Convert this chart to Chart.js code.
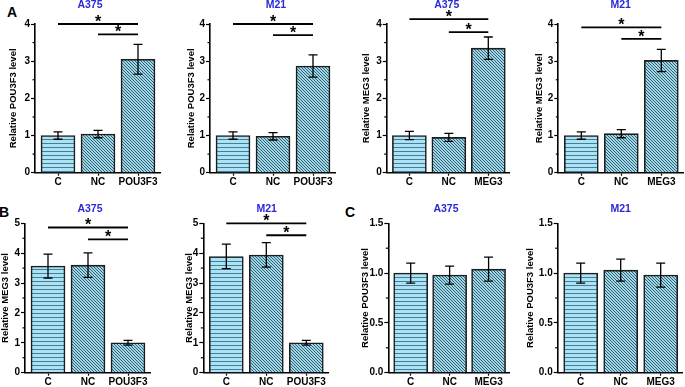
<!DOCTYPE html>
<html><head><meta charset="utf-8">
<script src="https://cdn.jsdelivr.net/npm/chart.js@4.4.0/dist/chart.umd.min.js"></script>
<style>
html,body{margin:0;padding:0;background:#fff;width:685px;height:387px;overflow:hidden;}
#wrap{position:relative;width:685px;height:387px;}
canvas{position:absolute;}
.lbl{position:absolute;font:bold 14px "Liberation Sans",Arial,sans-serif;line-height:14px;color:#000;}
</style></head><body><div id="wrap">
<div class="lbl" style="left:7px;top:5px">A</div>
<div class="lbl" style="left:-1px;top:205px">B</div>
<div class="lbl" style="left:345px;top:205px">C</div>
</div>
<script>
const FONT = '"Liberation Sans", Arial, sans-serif';

// categories
const catsPOU = ['C', 'NC', 'POU3F3'];
const catsMEG = ['C', 'NC', 'MEG3'];

// Panel A: mean and SD
const aA375PouMean = [1.00, 1.04, 3.05];
const aA375PouSD   = [0.10, 0.10, 0.40];
const aM21PouMean  = [1.00, 0.98, 2.87];
const aM21PouSD    = [0.10, 0.10, 0.30];
const aA375MegMean = [1.00, 0.95, 3.35];
const aA375MegSD   = [0.11, 0.11, 0.30];
const aM21MegMean  = [1.00, 1.05, 3.02];
const aM21MegSD    = [0.10, 0.11, 0.30];

// Panel B
const bA375MegMean = [3.57, 3.60, 1.00];
const bA375MegSD   = [0.40, 0.41, 0.08];
const bM21MegMean  = [3.89, 3.94, 1.00];
const bM21MegSD    = [0.41, 0.41, 0.08];

// Panel C
const cA375PouMean = [1.00, 0.98, 1.04];
const cA375PouSD   = [0.10, 0.09, 0.12];
const cM21PouMean  = [1.00, 1.03, 0.98];
const cM21PouSD    = [0.10, 0.11, 0.12];

// significance brackets: [from category, to category, height]
const sigA1 = [[0, 2, 4.00], [1, 2, 3.72]];
const sigA2 = [[0, 2, 4.00], [1, 2, 3.70]];
const sigA3 = [[0, 2, 4.13], [1, 2, 3.78]];
const sigA4 = [[0, 2, 3.91], [1, 2, 3.60]];
const sigB1 = [[0, 2, 4.86], [1, 2, 4.46]];
const sigB2 = [[0, 2, 5.00], [1, 2, 4.60]];
const sigNone = [];

// y-axis tick settings
const ymaxA = 4, ymaxB = 5, ymaxC = 1.5;
const stepAB = 1, stepC = 0.5;

const panels = [
  {key:'a1', cats:catsPOU, mean:aA375PouMean, sd:aA375PouSD, sig:sigA1, ytitle:'Relative POU3F3 level', title:'A375', ymax:ymaxA, step:stepAB, dec:0,
   cx:-10, cy:0, cw:180, ch:190, axisX:35, top:24, bottom:172.7, ytx:13, tx:90, ty:5},
  {key:'a2', cats:catsPOU, mean:aM21PouMean, sd:aM21PouSD, sig:sigA2, ytitle:'Relative POU3F3 level', title:'M21', ymax:ymaxA, step:stepAB, dec:0,
   cx:165, cy:0, cw:175, ch:190, axisX:210, top:24, bottom:172.7, ytx:191.7, tx:276, ty:5},
  {key:'a3', cats:catsMEG, mean:aA375MegMean, sd:aA375MegSD, sig:sigA3, ytitle:'Relative MEG3 level', title:'A375', ymax:ymaxA, step:stepAB, dec:0,
   cx:335, cy:0, cw:175, ch:190, axisX:386.7, top:24, bottom:172.7, ytx:366.7, tx:446.7, ty:5},
  {key:'a4', cats:catsMEG, mean:aM21MegMean, sd:aM21MegSD, sig:sigA4, ytitle:'Relative MEG3 level', title:'M21', ymax:ymaxA, step:stepAB, dec:0,
   cx:505, cy:0, cw:180, ch:190, axisX:558.3, top:24, bottom:172.7, ytx:539.3, tx:620.7, ty:5},
  {key:'b1', cats:catsPOU, mean:bA375MegMean, sd:bA375MegSD, sig:sigB1, ytitle:'Relative MEG3 level', title:'A375', ymax:ymaxB, step:stepAB, dec:0,
   cx:-10, cy:190, cw:180, ch:200, axisX:25, top:223.3, bottom:372.7, ytx:5, tx:90, ty:209.3},
  {key:'b2', cats:catsPOU, mean:bM21MegMean, sd:bM21MegSD, sig:sigB2, ytitle:'Relative MEG3 level', title:'M21', ymax:ymaxB, step:stepAB, dec:0,
   cx:165, cy:190, cw:175, ch:200, axisX:203.3, top:223.3, bottom:372.7, ytx:189.3, tx:266.7, ty:208.8},
  {key:'c1', cats:catsMEG, mean:cA375PouMean, sd:cA375PouSD, sig:sigNone, ytitle:'Relative POU3F3 level', title:'A375', ymax:ymaxC, step:stepC, dec:1,
   cx:335, cy:190, cw:175, ch:200, axisX:388.3, top:223.3, bottom:372.7, ytx:365, tx:446, ty:209.3},
  {key:'c2', cats:catsMEG, mean:cM21PouMean, sd:cM21PouSD, sig:sigNone, ytitle:'Relative POU3F3 level', title:'M21', ymax:ymaxC, step:stepC, dec:1,
   cx:505, cy:190, cw:180, ch:200, axisX:557.7, top:223.3, bottom:372.7, ytx:530.7, tx:620.7, ty:209.3}
];

function hPattern(ctx) {
  const c = document.createElement('canvas'); c.width = 4; c.height = 4;
  const g = c.getContext('2d');
  g.fillStyle = '#ade1f4'; g.fillRect(0, 0, 4, 4);
  g.fillStyle = '#427f99'; g.fillRect(0, 3, 4, 1);
  return ctx.createPattern(c, 'repeat');
}
function dPattern(ctx) {
  const c = document.createElement('canvas'); c.width = 3; c.height = 3;
  const g = c.getContext('2d');
  g.fillStyle = '#a2d5e5'; g.fillRect(0, 0, 3, 3);
  g.fillStyle = '#2e6376';
  for (let i = 0; i < 3; i++) g.fillRect(i, i, 1, 1);
  return ctx.createPattern(c, 'repeat');
}

const XMIN = -0.575, XMAX = 2.55, PX_PER_CAT = 40;

function extras(p) {
  return {
    id: 'extras_' + p.key,
    afterDatasetsDraw(chart) {
      const ctx = chart.ctx, xs = chart.scales.x, ys = chart.scales.y, ca = chart.chartArea;
      ctx.save();
      ctx.strokeStyle = '#000';
      ctx.fillStyle = '#000';
      ctx.lineWidth = 1.3;
      p.mean.forEach((m, i) => {
        const x = xs.getPixelForValue(i);
        const y1 = ys.getPixelForValue(m + p.sd[i]);
        const y2 = ys.getPixelForValue(m - p.sd[i]);
        ctx.beginPath();
        ctx.moveTo(x, y1); ctx.lineTo(x, y2);
        ctx.moveTo(x - 4.5, y1); ctx.lineTo(x + 4.5, y1);
        ctx.moveTo(x - 4.5, y2); ctx.lineTo(x + 4.5, y2);
        ctx.stroke();
      });
      ctx.lineWidth = 1.2;
      for (let v = p.step / 2; v < p.ymax; v += p.step) {
        const y = ys.getPixelForValue(v);
        ctx.beginPath(); ctx.moveTo(ca.left - 2.5, y); ctx.lineTo(ca.left, y); ctx.stroke();
      }
      ctx.lineWidth = 1.8;
      ctx.font = 'bold 16px ' + FONT;
      ctx.textAlign = 'center';
      ctx.textBaseline = 'alphabetic';
      const mt = ctx.measureText('*');
      const asc = mt.actualBoundingBoxAscent, desc = mt.actualBoundingBoxDescent;
      p.sig.forEach(s => {
        const x1 = xs.getPixelForValue(s[0]), x2 = xs.getPixelForValue(s[1]);
        const y = ys.getPixelForValue(s[2]);
        ctx.beginPath(); ctx.moveTo(x1, y); ctx.lineTo(x2, y); ctx.stroke();
        const cyy = y - 5.7;
        ctx.fillText('*', (x1 + x2) / 2, cyy - (desc - asc) / 2);
      });
      ctx.font = 'bold 10.5px ' + FONT;
      ctx.fillStyle = '#2a2ad8';
      ctx.textBaseline = 'middle';
      ctx.fillText(p.title, p.tx - p.cx, p.ty - p.cy);
      ctx.restore();
    }
  };
}

function makeChart(p) {
  const canvas = document.createElement('canvas');
  canvas.width = p.cw; canvas.height = p.ch;
  canvas.style.left = p.cx + 'px'; canvas.style.top = p.cy + 'px';
  canvas.style.width = p.cw + 'px'; canvas.style.height = p.ch + 'px';
  document.getElementById('wrap').appendChild(canvas);
  const ctx = canvas.getContext('2d');
  const hp = hPattern(ctx), dp = dPattern(ctx);
  const tSize = 9.5, tLH = 1.2;
  const padLeft = p.ytx - tSize * tLH / 2 - p.cx;
  const yWidth = p.axisX - (p.cx + padLeft);
  const chartW = (XMAX - XMIN) * PX_PER_CAT;
  const padRight = p.cx + p.cw - (p.axisX + chartW);
  const padTop = p.top - p.cy;
  const xHeight = p.cy + p.ch - p.bottom;
  const tickFont = {family: FONT, size: 10, weight: 'bold'};
  new Chart(ctx, {
    type: 'bar',
    data: {
      datasets: [{
        data: p.mean.map((v, i) => ({x: i, y: v})),
        backgroundColor: [hp, dp, dp],
        borderColor: '#1c1c1c',
        borderWidth: 1.6,
        barThickness: 34
      }]
    },
    options: {
      responsive: false,
      animation: false,
      devicePixelRatio: 1,
      layout: {padding: {left: padLeft, right: padRight, top: padTop, bottom: 0}},
      plugins: {legend: {display: false}, tooltip: {enabled: false}},
      scales: {
        x: {
          type: 'linear', min: XMIN, max: XMAX, offset: false,
          afterBuildTicks: s => { s.ticks = p.cats.map((c, i) => ({value: i})); },
          afterFit: s => { s.height = xHeight; },
          ticks: {callback: v => p.cats[v], autoSkip: false, maxRotation: 0, padding: 1, font: tickFont, color: '#000'},
          grid: {drawOnChartArea: false, tickLength: 3, tickColor: '#000', tickWidth: 1.2, offset: false},
          border: {color: '#000', width: 1.6}
        },
        y: {
          min: 0, max: p.ymax,
          afterFit: s => { s.width = yWidth; },
          ticks: {stepSize: p.step, padding: 1, font: tickFont, color: '#000',
                  callback: v => Number(v).toFixed(p.dec)},
          grid: {drawOnChartArea: false, tickLength: 4, tickColor: '#000', tickWidth: 1.2},
          border: {color: '#000', width: 1.6},
          title: {display: true, text: p.ytitle, color: '#000', padding: 0,
                  font: {family: FONT, size: tSize, weight: 'bold', lineHeight: tLH}}
        }
      }
    },
    plugins: [extras(p)]
  });
}

panels.forEach(makeChart);
</script></body></html>
